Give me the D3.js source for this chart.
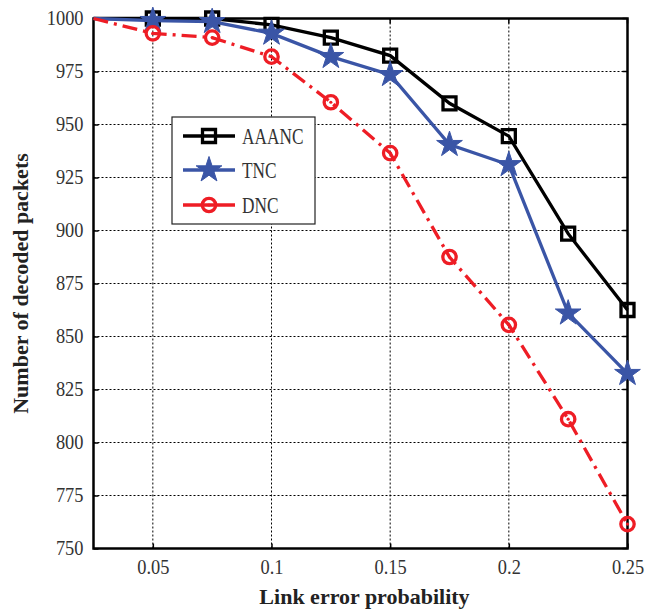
<!DOCTYPE html>
<html><head><meta charset="utf-8">
<script src="https://cdn.jsdelivr.net/npm/d3@7/dist/d3.min.js"></script>
<style>body{margin:0;background:#fff}svg{display:block}</style>
</head><body>
<svg id="c" width="645" height="612"></svg>
<script>
const xValues = [0.025, 0.05, 0.075, 0.1, 0.125, 0.15, 0.175, 0.2, 0.225, 0.25];
const aaanc = [1000, 1000, 1000, 997, 991, 982.5, 960, 944.5, 898.5, 862.5];
const tnc   = [1000, 999, 998.5, 993, 982, 973.5, 940.5, 931, 861, 832.5];
const dnc   = [1000, 993, 991, 982, 960.5, 936.5, 887.5, 855.5, 811, 761.5];
const xTicks = [0.05, 0.1, 0.15, 0.2, 0.25];
const xTickLabels = ["0.05", "0.1", "0.15", "0.2", "0.25"];
const yTicks = [750, 775, 800, 825, 850, 875, 900, 925, 950, 975, 1000];
const seriesNames = ["AAANC", "TNC", "DNC"];

const svg = d3.select("#c");
const L = 93.5, R = 627.5, T = 18.5, B = 548.5;
const x = d3.scaleLinear().domain([0.025, 0.25]).range([L, R]);
const y = d3.scaleLinear().domain([750, 1000]).range([B, T]);
const font = "'Liberation Serif', serif";

function condense(sel, s) {
  sel.each(function() {
    const t = d3.select(this);
    const x0 = +t.attr("x") || 0;
    t.attr("transform", `translate(${x0},0) scale(${s},1) translate(${-x0},0)`);
  });
}

// grid
const g = svg.append("g");
g.selectAll(".vg").data(xTicks).join("line")
  .attr("x1", d => x(d)).attr("x2", d => x(d)).attr("y1", T).attr("y2", B)
  .attr("stroke", "#000").attr("stroke-width", 1).attr("stroke-dasharray", "2,2");
g.selectAll(".hg").data(yTicks).join("line")
  .attr("x1", L).attr("x2", R).attr("y1", d => y(d)).attr("y2", d => y(d))
  .attr("stroke", "#000").attr("stroke-width", 1).attr("stroke-dasharray", "2,2");

// axes
const xAxis = d3.axisBottom(x).tickValues(xTicks).tickFormat((d, i) => xTickLabels[i]).tickSize(-5).tickPadding(11);
const yAxis = d3.axisLeft(y).tickValues(yTicks).tickFormat(d3.format("d")).tickSize(-5).tickPadding(10);
const xa = svg.append("g").attr("transform", `translate(0,${B})`).call(xAxis);
const ya = svg.append("g").attr("transform", `translate(${L},0)`).call(yAxis);
[xa, ya].forEach(a => {
  a.select(".domain").remove();
  a.selectAll("text").attr("font-family", font).attr("font-size", 20).attr("fill", "#333");
  condense(a.selectAll("text"), 0.92);
  a.selectAll("line").attr("stroke", "#000").attr("stroke-width", 1.5);
});
// right / top ticks
svg.append("g").selectAll("line").data(yTicks).join("line")
  .attr("x1", R - 5).attr("x2", R).attr("y1", d => y(d)).attr("y2", d => y(d))
  .attr("stroke", "#000").attr("stroke-width", 1.5);
svg.append("g").selectAll("line").data(xTicks).join("line")
  .attr("x1", d => x(d)).attr("x2", d => x(d)).attr("y1", T).attr("y2", T + 5)
  .attr("stroke", "#000").attr("stroke-width", 1.5);

// frame
svg.append("rect").attr("x", L).attr("y", T).attr("width", R - L).attr("height", B - T)
  .attr("fill", "none").attr("stroke", "#000").attr("stroke-width", 2.5);

// series
const series = [
  {name: seriesNames[0], vals: aaanc, color: "#000000", dash: null, marker: "square"},
  {name: seriesNames[1], vals: tnc, color: "#3a55a6", dash: null, marker: "star"},
  {name: seriesNames[2], vals: dnc, color: "#ee1d25", dash: "15,6,3,6", marker: "circle"}
];
const line = d3.line().x(d => x(d[0])).y(d => y(d[1]));

function drawMarker(sel, type, color) {
  if (type === "square") {
    sel.append("path").attr("d", d3.symbol(d3.symbolSquare, 169)())
      .attr("fill", "none").attr("stroke", color).attr("stroke-width", 3.3);
  } else if (type === "star") {
    sel.append("path").attr("d", d3.symbol(d3.symbolStar, 205)())
      .attr("fill", color).attr("stroke", color).attr("stroke-width", 1);
  } else {
    sel.append("circle").attr("r", 6.7).attr("fill", "none").attr("stroke", color).attr("stroke-width", 3.3);
    sel.append("circle").attr("r", 1.6).attr("fill", color);
  }
}

series.forEach(s => {
  const pts = xValues.map((xv, i) => [xv, s.vals[i]]);
  svg.append("path").datum(pts).attr("d", line)
    .attr("fill", "none").attr("stroke", s.color).attr("stroke-width", 3.3)
    .attr("stroke-dasharray", s.dash);
  svg.append("g").selectAll("g").data(pts.slice(1)).join("g")
    .attr("transform", d => `translate(${x(d[0])},${y(d[1])})`)
    .each(function() { drawMarker(d3.select(this), s.marker, s.color); });
});

// legend
const lg = svg.append("g");
lg.append("rect").attr("x", 172).attr("y", 117).attr("width", 143).attr("height", 107)
  .attr("fill", "#fff").attr("stroke", "#222").attr("stroke-width", 1.2);
const ly = [136, 170, 205];
series.forEach((s, i) => {
  lg.append("line").attr("x1", 183).attr("x2", 235).attr("y1", ly[i]).attr("y2", ly[i])
    .attr("stroke", s.color).attr("stroke-width", 3.3);
  const m = lg.append("g").attr("transform", `translate(209,${ly[i]})`);
  drawMarker(m, s.marker, s.color);
  const t = lg.append("text").attr("x", 242).attr("y", ly[i]).attr("dy", "0.35em")
    .attr("font-family", font).attr("font-size", 24).attr("fill", "#333").text(s.name);
  condense(t, 0.72);
});

// axis titles
svg.append("text").attr("x", (L + R) / 2 + 4).attr("y", 604).attr("text-anchor", "middle")
  .attr("font-family", font).attr("font-weight", "bold").attr("font-size", 22).attr("fill", "#222")
  .text("Link error probability");
svg.append("text").attr("transform", `translate(28,${(T + B) / 2}) rotate(-90)`).attr("text-anchor", "middle")
  .attr("font-family", font).attr("font-weight", "bold").attr("font-size", 22).attr("fill", "#222")
  .text("Number of decoded packets");
</script>
</body></html>
